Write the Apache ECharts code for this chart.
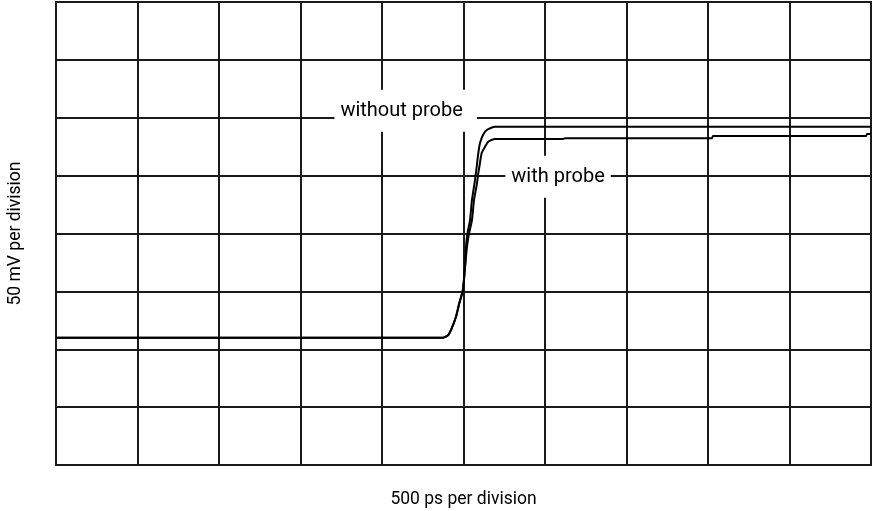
<!DOCTYPE html>
<html><head><meta charset="utf-8">
<script src="https://cdn.jsdelivr.net/npm/echarts@6/dist/echarts.min.js"></script>
<style>html,body{margin:0;padding:0;background:#fff}#c{width:872px;height:511px}</style>
</head><body><div id="c"></div>
<script>
// time in divisions (500 ps/div), voltage in divisions (50 mV/div)
const withoutProbeX = [0, 4.75, 4.813, 4.855, 4.908, 4.948, 4.990, 5.018, 5.031, 5.047, 5.080, 5.104, 5.141, 5.162, 5.182, 5.202, 5.239, 5.285, 5.387, 10];
const withoutProbeY = [2.2, 2.2, 2.246, 2.362, 2.562, 2.794, 3.006, 3.404, 3.772, 3.991, 4.233, 4.579, 4.924, 5.154, 5.391, 5.559, 5.702, 5.788, 5.845, 5.845];
const withProbeX = [0, 4.75, 4.813, 4.855, 4.908, 4.948, 4.990, 5.018, 5.043, 5.067, 5.104, 5.129, 5.162, 5.182, 5.202, 5.223, 5.264, 5.304, 5.387, 6.221, 6.245, 8.049, 8.061, 9.94, 9.95, 10];
const withProbeY = [2.2, 2.2, 2.246, 2.362, 2.562, 2.794, 3.006, 3.404, 3.772, 3.991, 4.233, 4.579, 4.838, 5.045, 5.218, 5.391, 5.500, 5.586, 5.633, 5.633, 5.645, 5.645, 5.685, 5.685, 5.72, 5.72];
const labelTexts = ['without probe', 'with probe'];
const labelX = [4.29, 6.16];
const labelY = [6.12, 4.98];
const xTitle = '500 ps per division';
const yTitle = '50 mV per division';

const zip = (a, b) => a.map((v, i) => [v, b[i]]);
const chart = echarts.init(document.getElementById('c'));
const font = 'Roboto, "Liberation Sans", sans-serif';
const lineCol = '#1a1a1a';
chart.setOption({
  animation: false,
  grid: {left: 56, right: 1, top: 2, bottom: 46, containLabel: false, outerBoundsMode: 'none',
    show: true, borderColor: lineCol, borderWidth: 2},
  xAxis: {type: 'value', min: 0, max: 10, interval: 1,
    name: xTitle, nameLocation: 'middle', nameGap: 26,
    nameTextStyle: {fontFamily: font, fontSize: 17.5, color: '#000'},
    axisLabel: {show: false}, axisTick: {show: false},
    axisLine: {show: true, lineStyle: {color: lineCol, width: 2}},
    splitLine: {show: true, lineStyle: {color: lineCol, width: 2}}},
  yAxis: {type: 'value', min: 0, max: 8, interval: 1,
    name: yTitle, nameLocation: 'middle', nameGap: 31, nameRotate: 90,
    nameTextStyle: {fontFamily: font, fontSize: 17.5, color: '#000'},
    axisLabel: {show: false}, axisTick: {show: false},
    axisLine: {show: true, lineStyle: {color: lineCol, width: 2}},
    splitLine: {show: true, lineStyle: {color: lineCol, width: 2}}},
  series: [
    {type: 'line', data: zip(withoutProbeX, withoutProbeY), symbol: 'none', smooth: 0.2,
     lineStyle: {color: '#000', width: 2}, z: 3},
    {type: 'line', data: zip(withProbeX, withProbeY), symbol: 'none', smooth: 0.2,
     lineStyle: {color: '#000', width: 2}, z: 3},
    {type: 'scatter', symbolSize: 1, itemStyle: {opacity: 0}, z: 5, silent: true,
     data: labelTexts.map((t, i) => ({value: [labelX[i], labelY[i]], name: t,
       label: {padding: i === 0 ? [11, 14, 11, 6] : [11, 6, 11, 6]}})),
     label: {show: true, position: 'inside', formatter: p => p.name, opacity: 1,
       fontFamily: font, fontSize: 20, color: '#000', backgroundColor: '#fff'}}
  ]
});
</script></body></html>
